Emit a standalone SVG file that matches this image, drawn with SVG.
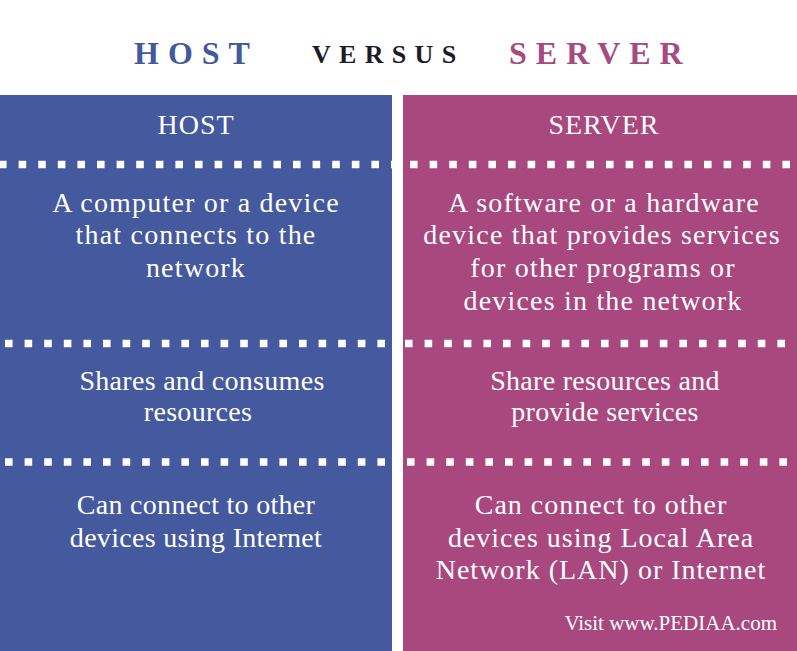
<svg xmlns="http://www.w3.org/2000/svg" width="797" height="651" viewBox="0 0 797 651">
<style>
.title{font-family:"Liberation Serif","Times New Roman",serif;font-weight:bold;font-size:32px;letter-spacing:9px}
.hdr{font-family:"Liberation Serif","Times New Roman",serif;font-size:28px;fill:#fff;text-anchor:middle;letter-spacing:1px}
.body{font-family:"Liberation Serif","Times New Roman",serif;font-size:28px;fill:#fff;text-anchor:middle}
.wide{letter-spacing:1.2px}
.mid{letter-spacing:0.3px}
.dots{stroke:#fff;stroke-width:7.6;stroke-dasharray:7.6 12}
.foot{font-family:"Liberation Serif","Times New Roman",serif;font-size:21px;fill:#fff;text-anchor:end}
</style>
<rect width="797" height="651" fill="#fff"/>
<g id="title">
<text class="title" x="134" y="64" fill="#44589c">HOST</text>
<text class="title" x="312" y="63" fill="#1c1c28" style="font-size:26px;letter-spacing:8.3px">VERSUS</text>
<text class="title" x="509" y="64" fill="#a64a80">SERVER</text>
</g>
<g id="host-column">
<rect x="0" y="95" width="392" height="556" fill="#45599e"/>
<text class="hdr" x="196" y="134">HOST</text>
<line class="dots" x1="-1" y1="164.5" x2="392" y2="164.5"/>
<g id="host-1">
<text class="body wide" x="196" y="212">A computer or a device</text>
<text class="body wide" x="196" y="244">that connects to the</text>
<text class="body wide" x="196" y="277">network</text>
</g>
<line class="dots" x1="5" y1="343.5" x2="392" y2="343.5"/>
<g id="host-2">
<text class="body mid" x="202" y="390">Shares and consumes</text>
<text class="body mid" x="198" y="421">resources</text>
</g>
<line class="dots" x1="5" y1="462" x2="392" y2="462"/>
<g id="host-3">
<text class="body mid" x="196" y="514">Can connect to other</text>
<text class="body mid" x="196" y="547">devices using Internet</text>
</g>
</g>
<g id="server-column">
<rect x="403" y="95" width="394" height="556" fill="#a9477f"/>
<text class="hdr" x="604" y="134">SERVER</text>
<line class="dots" x1="410" y1="164.5" x2="797" y2="164.5"/>
<g id="server-1">
<text class="body wide" x="604" y="212">A software or a hardware</text>
<text class="body wide" x="602" y="244">device that provides services</text>
<text class="body wide" x="603" y="277">for other programs or</text>
<text class="body wide" x="603" y="310">devices in the network</text>
</g>
<line class="dots" x1="405" y1="343.5" x2="797" y2="343.5"/>
<g id="server-2">
<text class="body mid" x="605" y="390">Share resources and</text>
<text class="body mid" x="605" y="421">provide services</text>
</g>
<line class="dots" x1="407" y1="462" x2="797" y2="462"/>
<g id="server-3">
<text class="body" x="601" y="514" style="letter-spacing:1px">Can connect to other</text>
<text class="body" x="601" y="547" style="letter-spacing:1px">devices using Local Area</text>
<text class="body" x="601" y="579" style="letter-spacing:1px">Network (LAN) or Internet</text>
</g>
<text class="foot" x="777" y="630">Visit www.PEDIAA.com</text>
</g>
</svg>
